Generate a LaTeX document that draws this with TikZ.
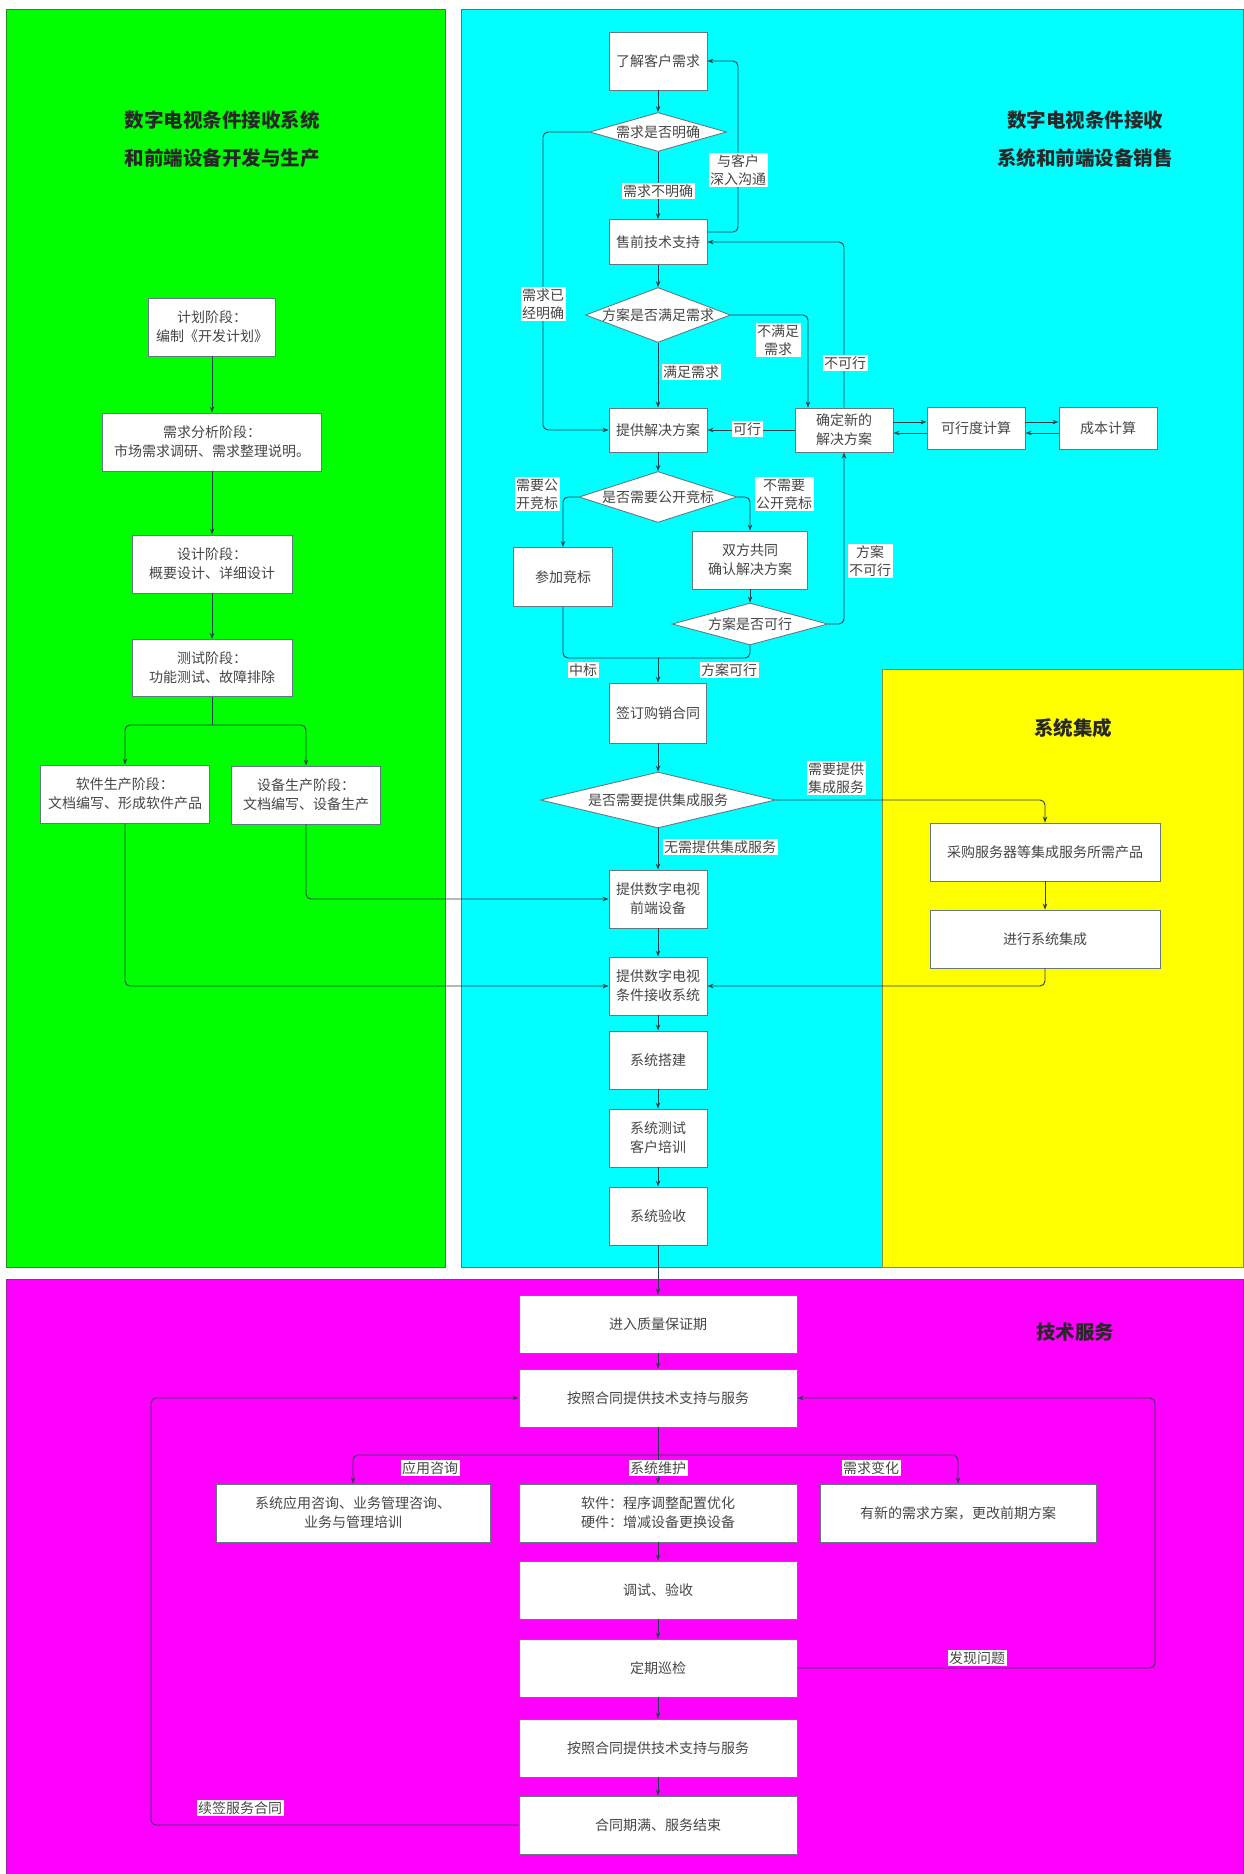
\documentclass[tikz,border=0pt]{standalone}
\usepackage{fontspec}
\newfontfamily\cjk{Noto Sans CJK SC}
\usetikzlibrary{shapes.geometric,arrows.meta}
\definecolor{pgreen}{RGB}{0,255,0}
\definecolor{pgreenb}{RGB}{30,140,30}
\definecolor{pcyan}{RGB}{0,255,255}
\definecolor{pcyanb}{RGB}{40,140,140}
\definecolor{pyellow}{RGB}{255,255,0}
\definecolor{pyellowb}{RGB}{140,140,50}
\definecolor{pmag}{RGB}{255,0,255}
\definecolor{pmagb}{RGB}{150,40,150}
\definecolor{boxc}{RGB}{100,120,130}
\definecolor{linec}{RGB}{35,65,75}
\definecolor{txtc}{RGB}{70,70,70}
\definecolor{ttlc}{RGB}{40,40,40}
\newcommand{\diatext}[1]{\makebox[0pt]{#1}}
\begin{document}
\begin{tikzpicture}[x=1pt,y=-1pt,
  wh/.style 2 args={minimum width=#1pt,minimum height=#2pt},
  box/.style={draw=boxc,line width=0.9pt,fill=white,inner sep=0pt,align=center,
    text=txtc,font=\cjk\fontsize{14}{19}\selectfont},
  dia/.style={diamond,draw=boxc,line width=0.9pt,fill=white,inner sep=0pt,
    text=txtc,font=\cjk\fontsize{14}{19}\selectfont},
  lab/.style={fill=white,inner sep=1.5pt,align=center,text=txtc,
    font=\cjk\fontsize{14}{18}\selectfont},
  ttl/.style={align=center,text=ttlc,font=\cjk\bfseries\fontsize{19.5}{38}\selectfont},
  conn/.style={draw=linec,line width=0.9pt,rounded corners=5pt},
  arr/.style={conn,-{Stealth[length=6pt,width=4.5pt]}},
  panel/.style={line width=1pt}]

\useasboundingbox[fill=white] (0,0) rectangle (1244,1874);

% swimlane panels
\draw[panel,draw=pgreenb,fill=pgreen] (6,9) rectangle (445,1267);
\draw[panel,draw=pcyanb,fill=pcyan] (461,9) rectangle (1243.5,1267);
\draw[panel,draw=pyellowb,fill=pyellow] (882,669) rectangle (1243.5,1267);
\draw[panel,draw=pmagb,fill=pmag] (6,1279) rectangle (1243.5,1874);

% panel titles
\node[ttl] (t1) at (222,139) {数字电视条件接收系统\\和前端设备开发与生产};
\node[ttl] (t2) at (1085,139) {数字电视条件接收\\系统和前端设备销售};
\node[ttl] (t3) at (1073,728) {系统集成};
\node[ttl] (t4) at (1075,1332) {技术服务};

% development and production
\node[box,wh={127}{58}] (g1) at (212,327) {计划阶段：\\编制《开发计划》};
\node[box,wh={219}{58}] (g2) at (212,442) {需求分析阶段：\\市场需求调研、需求整理说明。};
\node[box,wh={160}{58}] (g3) at (212,564) {设计阶段：\\概要设计、详细设计};
\node[box,wh={160}{57}] (g4) at (212,668) {测试阶段：\\功能测试、故障排除};
\node[box,wh={169}{58}] (g5) at (125,794) {软件生产阶段：\\文档编写、形成软件产品};
\node[box,wh={149}{58}] (g6) at (306,795) {设备生产阶段：\\文档编写、设备生产};

% sales
\node[box,wh={98}{58}] (c1) at (658,61) {了解客户需求};
\node[dia,wh={137}{39}] (d1) at (658,132) {\diatext{需求是否明确}};
\node[box,wh={98}{45}] (c2) at (658,242) {售前技术支持};
\node[dia,wh={145}{55}] (d2) at (658,315) {\diatext{方案是否满足需求}};
\node[box,wh={98}{44}] (c3) at (658,430) {提供解决方案};
\node[box,wh={98}{44}] (c4) at (844,430) {确定新的\\解决方案};
\node[box,wh={98}{42}] (c5) at (976,428) {可行度计算};
\node[box,wh={98}{42}] (c6) at (1108,428) {成本计算};
\node[dia,wh={158}{51}] (d3) at (658,497) {\diatext{是否需要公开竞标}};
\node[box,wh={99}{59}] (c7) at (563,577) {参加竞标};
\node[box,wh={115}{58}] (c8) at (750,560) {双方共同\\确认解决方案};
\node[dia,wh={156}{42}] (d4) at (750,624) {\diatext{方案是否可行}};
\node[box,wh={97}{60}] (c9) at (658,713) {签订购销合同};
\node[dia,wh={235}{56}] (d5) at (658,800) {\diatext{是否需要提供集成服务}};
\node[box,wh={98}{58}] (c10) at (658,899) {提供数字电视\\前端设备};
\node[box,wh={98}{58}] (c11) at (658,986) {提供数字电视\\条件接收系统};
\node[box,wh={98}{58}] (c12) at (658,1060) {系统搭建};
\node[box,wh={98}{58}] (c13) at (658,1138) {系统测试\\客户培训};
\node[box,wh={98}{58}] (c14) at (658,1216) {系统验收};

% system integration
\node[box,wh={230}{58}] (y1) at (1045,852) {采购服务器等集成服务所需产品};
\node[box,wh={230}{58}] (y2) at (1045,939) {进行系统集成};

% technical service
\node[box,wh={278}{58}] (m1) at (658,1324) {进入质量保证期};
\node[box,wh={278}{58}] (m2) at (658,1398) {按照合同提供技术支持与服务};
\node[box,wh={274}{58}] (m3) at (353,1513) {系统应用咨询、业务管理咨询、\\业务与管理培训};
\node[box,wh={278}{58}] (m4) at (658,1513) {软件：程序调整配置优化\\硬件：增减设备更换设备};
\node[box,wh={276}{58}] (m5) at (958,1513) {有新的需求方案，更改前期方案};
\node[box,wh={278}{58}] (m6) at (658,1590) {调试、验收};
\node[box,wh={278}{58}] (m7) at (658,1668) {定期巡检};
\node[box,wh={278}{58}] (m8) at (658,1748) {按照合同提供技术支持与服务};
\node[box,wh={278}{58}] (m9) at (658,1825) {合同期满、服务结束};

% bend points
\coordinate (gsplit) at (212,725);
\coordinate (xl1) at (543,0);
\coordinate (xr1) at (738,0);
\coordinate (xr2) at (808,0);
\coordinate (r1) at (0,422);
\coordinate (r2) at (0,433);
\coordinate (mg) at (658,658);
\coordinate (ms) at (658,1455);
\coordinate (xrt) at (1155,0);
\coordinate (xlf) at (151,0);

% development flow
\draw[arr] (g1) -- (g2);
\draw[arr] (g2) -- (g3);
\draw[arr] (g3) -- (g4);
\draw[conn] (g4.south) -- (gsplit);
\draw[arr] (gsplit) -| (g5.north);
\draw[arr] (gsplit) -| (g6.north);
\draw[arr] (g6.south) |- (c10.west);
\draw[arr] (g5.south) |- (c11.west);

% sales flow
\draw[arr] (c1) -- (d1);
\draw[arr] (d1) -- (c2);
\draw[arr] (d1.west) -| (xl1 |- c3.west) -- (c3.west);
\draw[arr] ([yshift=10pt]c2.east) -| (xr1 |- c1.east) -- (c1.east);
\draw[arr] (c2) -- (d2);
\draw[arr] (d2) -- (c3);
\draw[arr] (d2.east) -| (xr2 |- c4.north);
\draw[arr] (c4.north) |- (c2.east);
\draw[arr] (c4) -- (c3);
\draw[arr] (c4.east |- r1) -- (c5.west |- r1);
\draw[arr] (c5.west |- r2) -- (c4.east |- r2);
\draw[arr] (c5.east |- r1) -- (c6.west |- r1);
\draw[arr] (c6.west |- r2) -- (c5.east |- r2);
\draw[arr] (c3) -- (d3);
\draw[arr] (d3.west) -| (c7.north);
\draw[arr] (d3.east) -| (c8.north);
\draw[arr] (c8) -- (d4);
\draw[arr] (d4.east) -| (c4.south);
\draw[conn] (c7.south) |- (mg);
\draw[conn] (d4.south) |- (mg);
\draw[arr] (mg) -- (c9.north);
\draw[arr] (c9) -- (d5);
\draw[arr] (d5.east) -| (y1.north);
\draw[arr] (d5) -- (c10);
\draw[arr] (c10) -- (c11);
\draw[arr] (c11) -- (c12);
\draw[arr] (c12) -- (c13);
\draw[arr] (c13) -- (c14);
\draw[arr] (c14) -- (m1);

% integration flow
\draw[arr] (y1) -- (y2);
\draw[arr] (y2.south) |- (c11.east);

% service flow
\draw[arr] (m1) -- (m2);
\draw[conn] (m2.south) -- (ms);
\draw[arr] (ms) -| (m3.north);
\draw[arr] (ms) -- (m4.north);
\draw[arr] (ms) -| (m5.north);
\draw[arr] (m4) -- (m6);
\draw[arr] (m6) -- (m7);
\draw[arr] (m7) -- (m8);
\draw[arr] (m8) -- (m9);
\draw[arr] (m7.east) -| (xrt |- m2.east) -- (m2.east);
\draw[arr] (m9.west) -| (xlf |- m2.west) -- (m2.west);

% connector labels
\node[lab] (l1) at (658,191) {需求不明确};
\node[lab] (l2) at (738,170) {与客户\\深入沟通};
\node[lab] (l3) at (543,304) {需求已\\经明确};
\node[lab] (l4) at (778,340) {不满足\\需求};
\node[lab] (l5) at (845,363) {不可行};
\node[lab] (l6) at (691,372) {满足需求};
\node[lab] (l7) at (747,429) {可行};
\node[lab] (l8) at (537,494) {需要公\\开竞标};
\node[lab] (l9) at (784,494) {不需要\\公开竞标};
\node[lab] (l10) at (870,561) {方案\\不可行};
\node[lab] (l11) at (583,670) {中标};
\node[lab] (l12) at (729,670) {方案可行};
\node[lab] (l13) at (836,778) {需要提供\\集成服务};
\node[lab] (l14) at (720,847) {无需提供集成服务};
\node[lab] (l15) at (430,1468) {应用咨询};
\node[lab] (l16) at (658,1468) {系统维护};
\node[lab] (l17) at (871,1468) {需求变化};
\node[lab] (l18) at (977,1658) {发现问题};
\node[lab] (l19) at (240,1808) {续签服务合同};
\end{tikzpicture}
\end{document}
